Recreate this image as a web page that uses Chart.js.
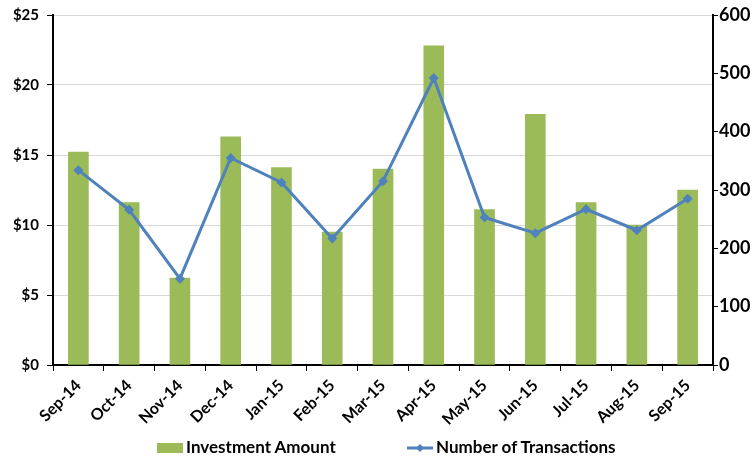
<!DOCTYPE html>
<html>
<head>
<meta charset="utf-8">
<script src="https://cdn.jsdelivr.net/npm/chart.js@4.4.0/dist/chart.umd.min.js"></script>
<style>
    html, body { margin: 0; padding: 0; background: #fff; overflow: hidden; }
    #wrap { position: relative; width: 780px; height: 457px; }
    #chart-box { position: absolute; left: 0; top: 0; width: 780px; height: 437px; }
    .legend-item { position: absolute; top: 437px; height: 20px; font: bold 17px Lato, sans-serif; color: #000; line-height: 20px; white-space: nowrap; }
    .swatch { display: inline-block; width: 26px; height: 10px; background: #9bbb59; vertical-align: middle; margin-right: 3px; position: relative; top: -1px; }
    .line-swatch { display: inline-block; vertical-align: middle; margin-right: 3px; position: relative; top: -1px; }
</style>
</head>
<body>
<div id="wrap">
    <div id="chart-box"><canvas id="invest-chart"></canvas></div>
    <div class="legend-item" style="left:157px"><span class="swatch"></span>Investment Amount</div>
    <div class="legend-item" style="left:407px"><svg class="line-swatch" width="26" height="10"><line x1="0" y1="5" x2="26" y2="5" stroke="#4f81bd" stroke-width="3"/><polygon points="13,1 17,5 13,9 9,5" fill="#4f81bd"/></svg>Number of Transactions</div>
</div>
<script>
// Monthly investment amount vs number of transactions
const months = ['Sep-14', 'Oct-14', 'Nov-14', 'Dec-14', 'Jan-15', 'Feb-15', 'Mar-15',
    'Apr-15', 'May-15', 'Jun-15', 'Jul-15', 'Aug-15', 'Sep-15'];
const investment = [15.2, 11.6, 6.2, 16.3, 14.1, 9.5, 14.0, 22.8, 11.1, 17.9, 11.6, 10.0, 12.5];
const transactions = [334, 266, 148, 355, 313, 217, 315, 492, 253, 226, 267, 231, 285];

const GREEN = '#9bbb59';
const BLUE = '#4f81bd';

Chart.defaults.font.family = 'Lato, sans-serif';
Chart.defaults.color = '#000';

const tickFont = { size: 15, weight: 'bold' };

function fixY(width) {
    return (scale) => {
        scale.width = width;
        scale.paddingTop = 15;
        scale.paddingBottom = 0;
    };
}

new Chart(document.getElementById('invest-chart'), {
    data: {
        labels: months,
        datasets: [
            {
                type: 'line',
                label: 'Number of Transactions',
                data: transactions,
                yAxisID: 'y2',
                borderColor: BLUE,
                backgroundColor: BLUE,
                borderWidth: 3,
                pointStyle: 'rectRot',
                pointRadius: 5,
                pointBorderWidth: 0,
                tension: 0,
                order: 0
            },
            {
                type: 'bar',
                label: 'Investment Amount',
                data: investment,
                yAxisID: 'y',
                backgroundColor: GREEN,
                barThickness: 20,
                order: 1
            }
        ]
    },
    options: {
        responsive: true,
        maintainAspectRatio: false,
        animation: false,
        layout: { padding: 0 },
        plugins: {
            legend: { display: false },
            tooltip: { enabled: false }
        },
        scales: {
            x: {
                offset: true,
                grid: { drawOnChartArea: false, offset: true, tickLength: 6, tickColor: '#000', tickWidth: 1 },
                border: { color: '#000', width: 2 },
                ticks: { minRotation: 45, maxRotation: 45, font: { size: 16, weight: 'bold' }, padding: 5 },
                afterFit: (scale) => {
                    scale.height = 72;
                    scale.paddingLeft = 0;
                    scale.paddingRight = 0;
                }
            },
            y: {
                position: 'left',
                min: 0,
                max: 25,
                ticks: { stepSize: 5, font: tickFont, padding: 8, callback: (v) => '$' + v },
                grid: { color: '#d9d9d9', tickColor: '#000', tickLength: 6 },
                border: { color: '#000', width: 2 },
                afterFit: fixY(53)
            },
            y2: {
                position: 'right',
                min: 0,
                max: 600,
                ticks: { stepSize: 100, font: { size: 18, weight: 'bold' }, padding: 1 },
                grid: { drawOnChartArea: false, tickColor: '#000', tickLength: 5 },
                border: { color: '#000', width: 2 },
                afterFit: fixY(67)
            }
        }
    }
});
</script>
</body>
</html>
